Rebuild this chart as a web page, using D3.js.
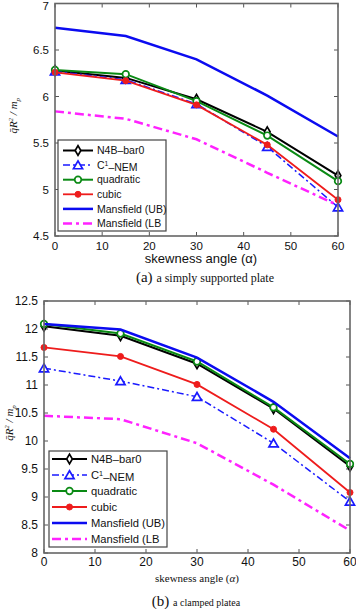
<!DOCTYPE html>
<html>
<head>
<meta charset="utf-8">
<script src="https://cdn.jsdelivr.net/npm/d3@7"></script>
<style>
  html, body { margin: 0; padding: 0; background: #fff; }
  svg { display: block; }
</style>
</head>
<body>
<div id="chart"></div>
<script>
// skewness angles (x values)
const angles = [0, 15, 30, 45, 60];
const seriesNames = ["N4B–bar0", "C1–NEM", "quadratic", "cubic", "Mansfield (UB)", "Mansfield (LB"];

// (a) simply supported plate
const n4bA = [6.28, 6.20, 5.97, 5.62, 5.15];
const c1A = [6.27, 6.18, 5.92, 5.46, 4.81];
const quadA = [6.285, 6.24, 5.95, 5.58, 5.09];
const cubicA = [6.26, 6.17, 5.91, 5.48, 4.89];
const ubA = [6.74, 6.65, 6.40, 6.01, 5.57];
const lbA = [5.84, 5.76, 5.54, 5.18, 4.83];
const yTicksA = [4.5, 5, 5.5, 6, 6.5, 7];

// (b) clamped plate
const n4bB = [12.05, 11.88, 11.38, 10.58, 9.55];
const c1B = [11.30, 11.07, 10.79, 9.96, 8.92];
const quadB = [12.09, 11.92, 11.42, 10.60, 9.59];
const cubicB = [11.67, 11.51, 11.01, 10.21, 9.08];
const ubB = [12.09, 11.99, 11.49, 10.70, 9.69];
const lbB = [10.45, 10.39, 9.96, 9.22, 8.40];
const yTicksB = [8, 8.5, 9, 9.5, 10, 10.5, 11, 11.5, 12, 12.5];

const xTicks = [0, 10, 20, 30, 40, 50, 60];

const styles = [
  { color: "#000000", width: 2, dash: null, marker: "diamond" },
  { color: "#1a1aff", width: 1.5, dash: "7,3,2,3", marker: "triangle" },
  { color: "#0a8a14", width: 2, dash: null, marker: "circle" },
  { color: "#ee1c1c", width: 1.8, dash: null, marker: "dot" },
  { color: "#0b0bf0", width: 2.5, dash: null, marker: null },
  { color: "#ff22ff", width: 2.5, dash: "9,4,3,4", marker: null }
];

const W = 356, H = 609;
const svg = d3.select("#chart").append("svg").attr("width", W).attr("height", H);
const sans = "'Liberation Sans', Arial, sans-serif";
const serif = "'Liberation Serif', 'DejaVu Serif', serif";

function drawMarker(g, type, x, y, color) {
  if (type === "diamond") {
    g.append("path").attr("d", d3.symbol(d3.symbolDiamond, 28)())
      .attr("transform", `translate(${x},${y})`)
      .attr("fill", "#fff").attr("stroke", color).attr("stroke-width", 1.7);
  } else if (type === "triangle") {
    g.append("path").attr("d", d3.symbol(d3.symbolTriangle, 36)())
      .attr("transform", `translate(${x},${y + 1})`)
      .attr("fill", "#fff").attr("stroke", color).attr("stroke-width", 1.7);
  } else if (type === "circle") {
    g.append("circle").attr("cx", x).attr("cy", y).attr("r", 3.3)
      .attr("fill", "#fff").attr("stroke", color).attr("stroke-width", 1.7);
  } else if (type === "dot") {
    g.append("circle").attr("cx", x).attr("cy", y).attr("r", 3)
      .attr("fill", color).attr("stroke", color).attr("stroke-width", 1);
  }
}

function panel(cfg) {
  const x = d3.scaleLinear().domain([0, 60]).range([cfg.left, cfg.right]);
  const y = d3.scaleLinear().domain(cfg.yDomain).range([cfg.bottom, cfg.top]);
  const g = svg.append("g");

  // ticks on four sides, inward
  const tk = 4;
  const axisG = g.append("g").attr("stroke", "#555").attr("stroke-width", 1);
  xTicks.forEach(t => {
    axisG.append("line").attr("x1", x(t)).attr("x2", x(t)).attr("y1", cfg.bottom).attr("y2", cfg.bottom - tk);
    axisG.append("line").attr("x1", x(t)).attr("x2", x(t)).attr("y1", cfg.top).attr("y2", cfg.top + tk);
  });
  cfg.yTicks.forEach(t => {
    axisG.append("line").attr("x1", cfg.left).attr("x2", cfg.left + tk).attr("y1", y(t)).attr("y2", y(t));
    axisG.append("line").attr("x1", cfg.right).attr("x2", cfg.right - tk).attr("y1", y(t)).attr("y2", y(t));
  });

  g.append("g").selectAll("text").data(xTicks).enter().append("text")
    .attr("x", d => x(d)).attr("y", cfg.bottom + cfg.xTickDy)
    .attr("text-anchor", "middle").attr("font-family", sans).attr("font-size", cfg.tickSize)
    .attr("fill", "#111").text(d => d);
  g.append("g").selectAll("text").data(cfg.yTicks).enter().append("text")
    .attr("x", cfg.left - 6).attr("y", d => Math.max(y(d), 5.5)).attr("dy", "0.35em")
    .attr("text-anchor", "end").attr("font-family", sans).attr("font-size", cfg.tickSize)
    .attr("fill", "#111").text(d => d);

  // series
  const line = d3.line().x((d, i) => x(angles[i])).y(d => y(d));
  cfg.series.forEach((vals, si) => {
    const st = styles[si];
    g.append("path").datum(vals).attr("d", line)
      .attr("fill", "none").attr("stroke", st.color).attr("stroke-width", st.width)
      .attr("stroke-dasharray", st.dash);
    if (st.marker) vals.forEach((v, i) => drawMarker(g, st.marker, x(angles[i]), y(v), st.color));
  });

  // frame
  g.append("rect").attr("x", cfg.left).attr("y", cfg.top)
    .attr("width", cfg.right - cfg.left).attr("height", cfg.bottom - cfg.top)
    .attr("fill", "none").attr("stroke", "#666").attr("stroke-width", 1.6);

  // legend
  const L = cfg.legend;
  const lg = g.append("g");
  lg.append("rect").attr("x", L.x0).attr("y", L.y0).attr("width", L.x1 - L.x0).attr("height", L.y1 - L.y0)
    .attr("fill", "#fff").attr("stroke", "#444").attr("stroke-width", 1.2);
  seriesNames.forEach((name, i) => {
    const st = styles[i];
    const yy = L.first + i * L.step;
    lg.append("line").attr("x1", L.lx0).attr("x2", L.lx1).attr("y1", yy).attr("y2", yy)
      .attr("stroke", st.color).attr("stroke-width", st.width).attr("stroke-dasharray", st.dash);
    if (st.marker) drawMarker(lg, st.marker, (L.lx0 + L.lx1) / 2, yy, st.color);
    const t = lg.append("text").attr("x", L.tx).attr("y", yy).attr("dy", "0.36em")
      .attr("font-family", sans).attr("font-size", L.size).attr("fill", "#111");
    if (name.startsWith("C1")) {
      t.append("tspan").text("C");
      t.append("tspan").attr("font-size", L.size * 0.65).attr("dy", "-0.45em").text("1");
      t.append("tspan").attr("dy", "0.45em").text("–NEM");
    } else t.text(name);
  });

  // y label
  const yl = g.append("text")
    .attr("transform", `translate(${cfg.yLabelX},${(cfg.top + cfg.bottom) / 2 - 4}) rotate(-90)`)
    .attr("text-anchor", "middle").attr("font-family", serif).attr("font-style", "italic")
    .attr("font-size", 11).attr("fill", "#111");
  yl.append("tspan").text("q̄R");
  yl.append("tspan").attr("font-size", 7).attr("dy", "-4").text("2");
  yl.append("tspan").attr("dy", "4").text(" / m");
  yl.append("tspan").attr("font-size", 7).attr("dy", "3").text("p");

  // x label
  const xl = g.append("text").attr("x", cfg.xLabel.x).attr("y", cfg.xLabel.y)
    .attr("text-anchor", "middle").attr("font-family", cfg.xLabel.font)
    .attr("font-size", cfg.xLabel.size).attr("fill", "#111");
  xl.append("tspan").text("skewness angle (");
  xl.append("tspan").attr("font-style", cfg.xLabel.font === serif ? "italic" : "normal").text("α");
  xl.append("tspan").text(")");

  // caption
  const cp = g.append("text").attr("x", cfg.caption.x).attr("y", cfg.caption.y)
    .attr("text-anchor", "middle").attr("font-family", serif).attr("fill", "#111");
  cp.append("tspan").attr("font-size", 15).text(cfg.caption.tag + " ");
  cp.append("tspan").attr("font-size", cfg.caption.size).text(cfg.caption.text);
}

panel({
  left: 55, right: 338, top: 3.5, bottom: 236,
  yDomain: [4.5, 7], yTicks: yTicksA, tickSize: 11.5, xTickDy: 14,
  series: [n4bA, c1A, quadA, cubicA, ubA, lbA],
  legend: { x0: 58, x1: 166, y0: 140, y1: 231, first: 150.5, step: 14.6, lx0: 63, lx1: 93, tx: 97, size: 10.5 },
  yLabelX: 17,
  xLabel: { x: 201, y: 263, font: sans, size: 13 },
  caption: { x: 205, y: 282, tag: "(a)", text: "a simply supported plate", size: 12 }
});

panel({
  left: 44, right: 350, top: 301, bottom: 553,
  yDomain: [8, 12.5], yTicks: yTicksB, tickSize: 12, xTickDy: 13,
  series: [n4bB, c1B, quadB, cubicB, ubB, lbB],
  legend: { x0: 49, x1: 167, y0: 451, y1: 547, first: 459, step: 16, lx0: 52, lx1: 87, tx: 91, size: 11.2 },
  yLabelX: 13,
  xLabel: { x: 197, y: 582, font: serif, size: 11 },
  caption: { x: 196, y: 606, tag: "(b)", text: "a clamped platea", size: 10 }
});
</script>
</body>
</html>
